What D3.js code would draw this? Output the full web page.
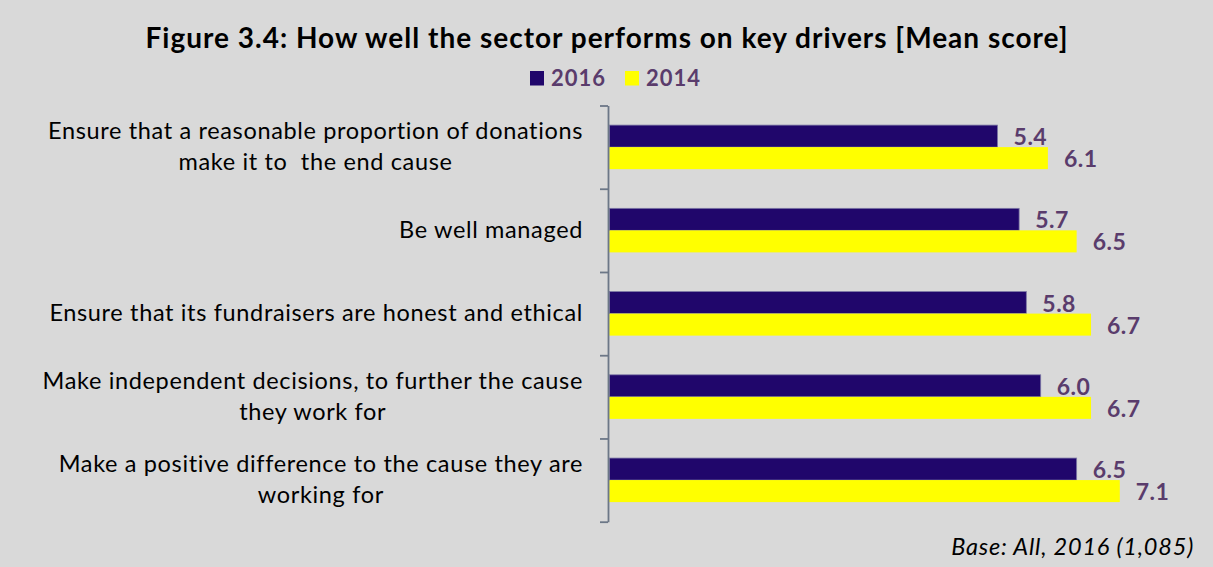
<!DOCTYPE html>
<html><head><meta charset="utf-8">
<script src="https://cdn.jsdelivr.net/npm/d3@7"></script>
<style>html,body{margin:0;padding:0;background:#d9d9d9;} svg{display:block;}</style>
</head><body><svg id="c" width="1213" height="567"></svg>
<script>
// ---- data ----
const categories = [
  ["Ensure that a reasonable proportion of donations", "make it to  the end cause"],
  ["Be well managed"],
  ["Ensure that its fundraisers are honest and ethical"],
  ["Make independent decisions, to further the cause", "they work for"],
  ["Make a positive difference to the cause they are", "working for"]
];
const seriesNames = ["2016", "2014"];
const values2016 = [5.4, 5.7, 5.8, 6.0, 6.5];
const values2014 = [6.1, 6.5, 6.7, 6.7, 7.1];
const seriesColors = ["#20066b", "#ffff00"];
const seriesStrokes = ["#7d78a6", "none"];
const titleText = "Figure 3.4: How well the sector performs on key drivers [Mean score]";
const footnoteText = "Base: All, 2016 (1,085)";

// ---- styling ----
const FONT = "Lato, 'Open Sans', sans-serif";
const labelColor = "#5a3c6c";
const axisColor = "#6c7787";

const svg = d3.select("#c");
svg.append("rect").attr("width", 1213).attr("height", 567).attr("fill", "#d9d9d9");

const keys = categories.map(c => c.join(" "));
const rows = keys.map((k, i) => ({key: k, lines: categories[i], vals: [values2016[i], values2014[i]]}));

const x = d3.scaleLinear().domain([0, 8]).range([609.3, 609.3 + 8 * 71.9]);
const y = d3.scaleBand().domain(keys).range([105.5, 521.7]).paddingInner(0).paddingOuter(0);
const ySub = d3.scaleBand().domain(seriesNames).range([0, y.bandwidth()]).paddingInner(0).paddingOuter(0.89);

// title
svg.append("text").attr("x", 607).attr("y", 48).attr("text-anchor", "middle")
  .attr("font-family", FONT).attr("font-weight", "bold").attr("font-size", 28)
  .attr("letter-spacing", 1).attr("fill", "#000")
  .text(titleText);

// legend
const legend = svg.append("g").attr("transform", "translate(530,0)");
seriesNames.forEach((s, i) => {
  const g = legend.append("g").attr("transform", `translate(${i * 95},0)`);
  g.append("rect").attr("x", 0).attr("y", 71).attr("width", 14).attr("height", 14.5).attr("fill", seriesColors[i]);
  g.append("text").attr("x", 21).attr("y", 85.5).attr("font-family", FONT).attr("font-weight", "bold")
    .attr("font-size", 22).attr("letter-spacing", 1).attr("fill", labelColor).text(s);
});

// bars
const groups = svg.append("g").selectAll("g.cat").data(rows).join("g").attr("class", "cat")
  .attr("transform", d => `translate(0,${y(d.key)})`);
groups.selectAll("rect").data(d => d.vals.map((v, j) => ({s: seriesNames[j], v, j}))).join("rect")
  .attr("x", x(0)).attr("y", d => ySub(d.s)).attr("height", ySub.bandwidth())
  .attr("width", d => x(d.v) - x(0)).attr("fill", d => seriesColors[d.j])
  .attr("stroke", d => seriesStrokes[d.j]).attr("stroke-width", 0.8);
groups.selectAll("text.val").data(d => d.vals.map((v, j) => ({s: seriesNames[j], v, j}))).join("text")
  .attr("class", "val").attr("x", d => x(d.v) + 16).attr("y", d => ySub(d.s) + ySub.bandwidth() / 2 + 9)
  .attr("font-family", FONT).attr("font-weight", "bold").attr("font-size", 23).attr("letter-spacing", 0.5)
  .attr("fill", labelColor)
  .text(d => d3.format(".1f")(d.v));

// axis with ticks at category boundaries
const yBound = d3.scaleLinear().domain([0, keys.length]).range(y.range());
const axisG = svg.append("g").attr("transform", "translate(608,0)")
  .call(d3.axisLeft(yBound).ticks(keys.length).tickFormat("").tickSizeInner(8).tickSizeOuter(0));
axisG.selectAll("path,line").attr("stroke", axisColor).attr("stroke-width", 1.8);

// category labels
const labelRight = 583;
const lineH = 31;
rows.forEach(r => {
  const cy = y(r.key) + y.bandwidth() / 2;
  const g = svg.append("g");
  const texts = r.lines.map((ln, i) => g.append("text")
    .attr("y", cy + 7.5 + (i - (r.lines.length - 1) / 2) * lineH)
    .attr("font-family", FONT).attr("font-size", 23.5).attr("letter-spacing", 0.65).attr("fill", "#000")
    .style("white-space", "pre").attr("text-anchor", "middle").text(ln));
  const w = d3.max(texts, t => t.node().getComputedTextLength());
  texts.forEach(t => t.attr("x", labelRight - w / 2));
});

// footnote
svg.append("text").attr("x", 1194).attr("y", 555).attr("text-anchor", "end")
  .attr("font-family", FONT).attr("font-style", "italic").attr("font-size", 23.5)
  .attr("letter-spacing", 0.8).attr("fill", "#000")
  .text(footnoteText);
</script></body></html>
